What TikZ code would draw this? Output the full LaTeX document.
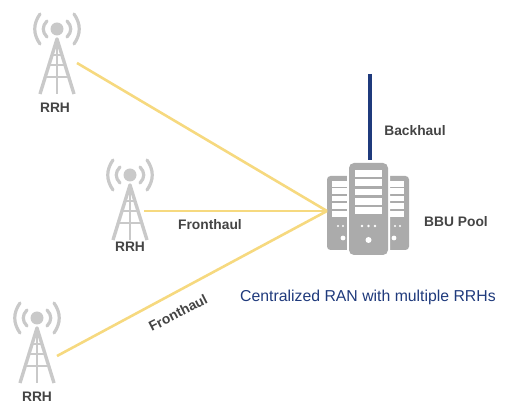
\documentclass[tikz,border=0pt]{standalone}
\usepackage{fontspec}
\setmainfont{Liberation Sans}
\definecolor{icon}{HTML}{C9C9C9}
\definecolor{srv}{HTML}{ABABAB}
\definecolor{fh}{HTML}{F6D97F}
\definecolor{bh}{HTML}{1F3A7C}
\definecolor{lbl}{HTML}{444444}
\tikzset{
  lab/.style={font=\bfseries\fontsize{13.8}{16}\selectfont,text=lbl,inner sep=0pt},
  fronthaul/.style={draw=fh,line width=2.6pt},
  backhaul/.style={draw=bh,line width=3.8pt},
  towerline/.style={draw=icon,line width=3.4pt},
  towerbar/.style={draw=icon,line width=2.6pt},
  wave/.style={draw=icon,line width=3.2pt,line cap=round},
  tower/.pic={
    \fill[icon] (0,0) circle (6.5);
    \draw[wave] (-10,-8) .. controls (-15,-3) and (-15,3) .. (-10,8);
    \draw[wave] (10,-8) .. controls (15,-3) and (15,3) .. (10,8);
    \draw[wave] (-17,-15) .. controls (-24,-5) and (-24,5) .. (-17,15);
    \draw[wave] (17,-15) .. controls (24,-5) and (24,5) .. (17,15);
    \draw[towerline,line join=round] (-17,65) -- (0,10) -- (17,65);
    \draw[towerbar] (0,10) -- (0,65);
    \draw[towerbar] (-6,26) -- (6,26);
    \draw[towerbar] (-9,36) -- (9,36);
    \draw[towerbar] (-12.5,48) -- (12.5,48);
  },
}
\begin{document}
\begin{tikzpicture}[x=1pt,y=-1pt]
\useasboundingbox (0,0) rectangle (512,411);
% side servers
\fill[srv,rounded corners=3.5pt] (327,176) rectangle (352,250);
\fill[srv,rounded corners=3.5pt] (385,176) rectangle (409,250);
\foreach \y/\h in {181/5.6,188.4/5.6,195.8/5.6,203.2/5.6,210.6/6}{
  \fill[white] (332,\y) rectangle (350,\y+\h);
  \fill[white] (387,\y) rectangle (404,\y+\h);
}
\fill[white] (338,226) circle (1.2) (343,226) circle (1.2) (395,226) circle (1.2) (400,226) circle (1.2);
\fill[white] (343,238) circle (2.4) (394,238) circle (2.4);
% main server
\fill[white,rounded corners=5pt] (347,161) rectangle (390,257);
\fill[srv,rounded corners=5pt] (349,163) rectangle (388,255);
\foreach \y in {169.8,179.2,188.6,198,207.4}{
  \fill[white] (355,\y) rectangle (382,\y+6.8);
}
\fill[white] (362,226) circle (1.3) (368.5,226) circle (1.3) (375,226) circle (1.3);
\fill[white] (368.5,240) circle (3);
% towers
\pic at (57,29) {tower};
\pic at (130,175) {tower};
\pic at (37,318) {tower};
% named anchor points
\coordinate (t1) at (77,63);
\coordinate (t2) at (144,211);
\coordinate (t3) at (57,356);
\coordinate (pool) at (327,211);
\coordinate (top) at (370,74);
\coordinate (srvtop) at (370,160);
\draw[fronthaul] (t1) -- (pool);
\draw[fronthaul] (t2) -- (pool);
\draw[fronthaul] (t3) -- (pool);
\draw[backhaul] (top) -- (srvtop);
% labels
\node[lab] (r1) at (55,108) {RRH};
\node[lab] (r2) at (130,247) {RRH};
\node[lab] (r3) at (37,397) {RRH};
\node[lab] (fh1) at (210,225) {Fronthaul};
\node[lab,rotate=27] (fh2) at (178,313) {Fronthaul};
\node[lab] (bhl) at (415,131) {Backhaul};
\node[lab] (bbu) at (456,222) {BBU Pool};
\node[inner sep=0pt,text=bh,font=\fontsize{15.8}{18}\selectfont] (cap) at (368,297) {Centralized RAN with multiple RRHs};
\end{tikzpicture}
\end{document}
